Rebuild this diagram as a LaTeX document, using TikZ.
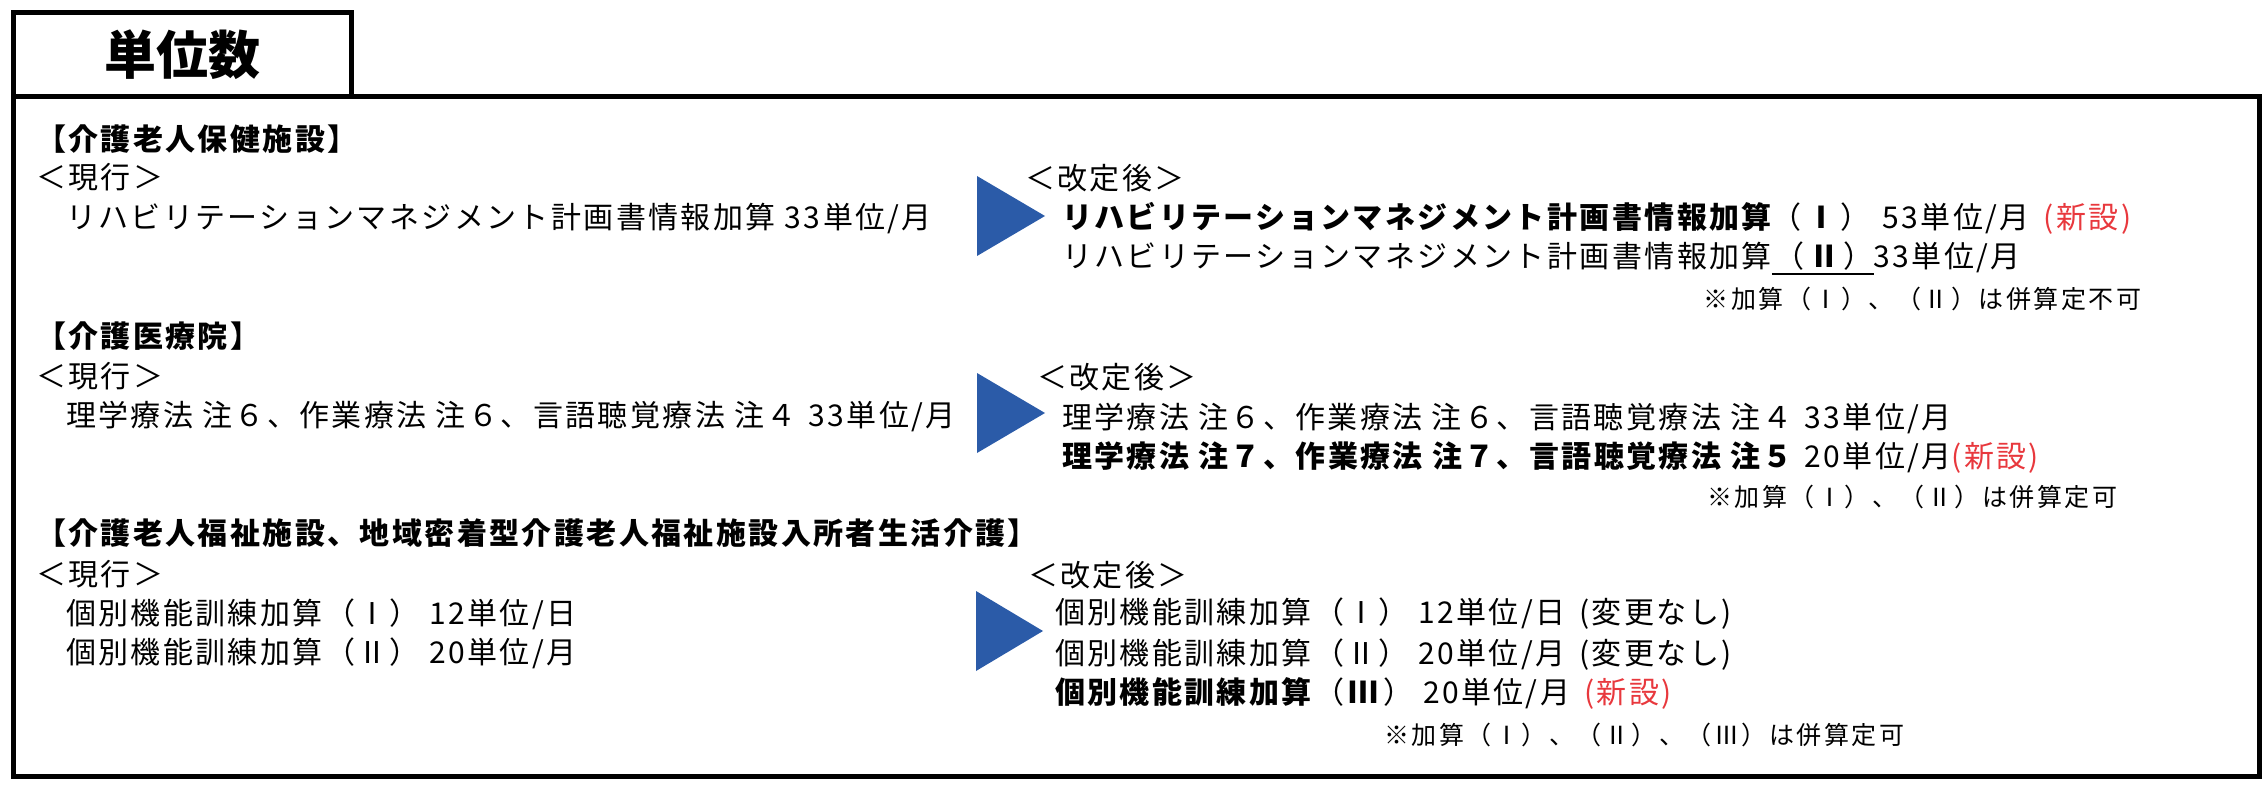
\documentclass[tikz,border=0pt]{standalone}
\usepackage{fontspec}
\usetikzlibrary{calc}
\newfontfamily\jp[LetterSpace=8]{Noto Sans CJK JP}
\newfontfamily\jpt{Noto Sans CJK JP}
\newfontfamily\jpn[LetterSpace=10]{Noto Sans CJK JP}
\newcommand\romparen[1]{（\hspace{2pt}#1\hspace{2pt}）}
\definecolor{triblue}{RGB}{43,91,168}
\definecolor{newred}{RGB}{232,56,61}
\tikzset{
  txt/.style={anchor=base west, inner sep=0pt, outer sep=0pt, font=\jp\fontsize{30}{36}\selectfont},
  hd/.style={txt, font=\jp\bfseries\fontsize{30}{36}\selectfont},
  note/.style={anchor=base east, inner sep=0pt, outer sep=0pt, font=\jpn\fontsize{25}{30}\selectfont},
  tri/.style={fill=triblue},
  frame/.style={line width=5pt, line cap=rect, line join=miter},
  uline/.style={line width=2.5pt}
}
\begin{document}
\begin{tikzpicture}[x=1pt,y=-1pt]
\useasboundingbox (0,0) rectangle (2268,786);
% frames
\draw[frame] (13,97) -- (13,13) -- (351,13) -- (351,97);
\draw[frame] (13,97) rectangle (2259,776);
\node[inner sep=0pt, font=\jpt\bfseries\fontsize{52}{60}\selectfont] (title) at (182,55) {単位数};
% triangles
\fill[tri] (977,176) -- (1045,216) -- (977,256) -- cycle;
\fill[tri] (977,373) -- (1045,413) -- (977,453) -- cycle;
\fill[tri] (976,591) -- (1043,631) -- (976,671) -- cycle;
% section 1
\node[hd] (h1) at (36,151) {【介護老人保健施設】};
\node[txt] (c1) at (36,189) {＜現行＞};
\node[txt] (c1a) at (66,229) {リハビリテーションマネジメント計画書情報加算 33単位/月};
\node[txt] (k1) at (1025,190) {＜改定後＞};
\node[txt] (k1a) at (1062,229) {{\bfseries リハビリテーションマネジメント計画書情報加算}\romparen{\textbf{Ⅰ}}\hspace{12pt}53単位/月\hspace{14pt}\textcolor{newred}{(新設)}};
\node[txt] (k1b) at (1062,268) {リハビリテーションマネジメント計画書情報加算};
\node[txt] (k1c) at (k1b.base east) {\hspace{3pt}\romparen{\textbf{Ⅱ}}\hspace{18pt}};
\node[txt] (k1d) at (k1c.base east) {33単位/月};
\draw[uline] ($(k1c.base west)+(0,6)$) -- ($(k1c.base east)+(0,6)$);
\node[note] (n1) at (2141,309) {※加算（Ⅰ）、（Ⅱ）は併算定不可};
% section 2
\node[hd] (h2) at (36,348) {【介護医療院】};
\node[txt] (c2) at (36,387) {＜現行＞};
\node[txt] (c2a) at (66,426) {理学療法 注６、作業療法 注６、言語聴覚療法 注４\hspace{12pt}33単位/月};
\node[txt] (k2) at (1037,388) {＜改定後＞};
\node[txt] (k2a) at (1062,428) {理学療法 注６、作業療法 注６、言語聴覚療法 注４\hspace{12pt}33単位/月};
\node[txt] (k2b) at (1062,467) {\textbf{理学療法 注７、作業療法 注７、言語聴覚療法 注５} 20単位/月\textcolor{newred}{(新設)}};
\node[note] (n2) at (2117,506) {※加算（Ⅰ）、（Ⅱ）は併算定可};
% section 3
\node[hd] (h3) at (36,544) {【介護老人福祉施設、地域密着型介護老人福祉施設入所者生活介護】};
\node[txt] (c3) at (36,585) {＜現行＞};
\node[txt] (c3a) at (66,624) {個別機能訓練加算\romparen{Ⅰ}\hspace{10pt}12単位/日};
\node[txt] (c3b) at (66,663) {個別機能訓練加算\romparen{Ⅱ}\hspace{10pt}20単位/月};
\node[txt] (k3) at (1028,586) {＜改定後＞};
\node[txt] (k3a) at (1055,623) {個別機能訓練加算\romparen{Ⅰ}\hspace{10pt}12単位/日\hspace{14pt}(変更なし)};
\node[txt] (k3b) at (1055,664) {個別機能訓練加算\romparen{Ⅱ}\hspace{10pt}20単位/月\hspace{14pt}(変更なし)};
\node[txt] (k3c) at (1055,703) {\textbf{個別機能訓練加算}\romparen{\textbf{Ⅲ}}\hspace{10pt}20単位/月\hspace{14pt}\textcolor{newred}{(新設)}};
\node[note] (n3) at (1904,744) {※加算（Ⅰ）、（Ⅱ）、（Ⅲ）は併算定可};
\end{tikzpicture}
\end{document}
